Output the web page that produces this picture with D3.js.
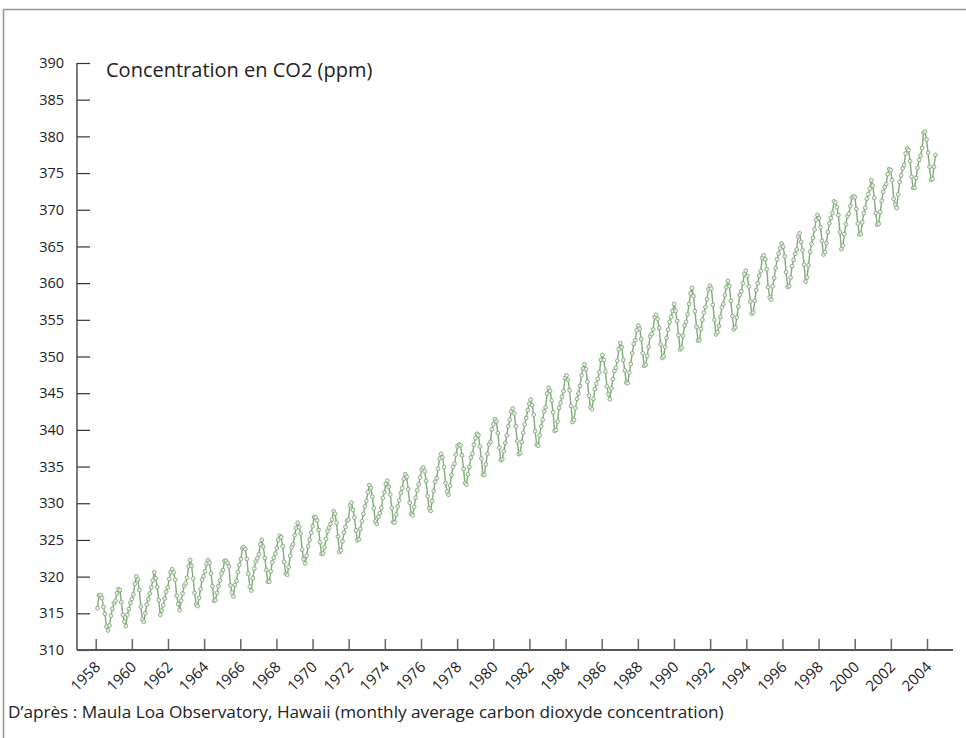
<!DOCTYPE html>
<html>
<head>
<meta charset="utf-8">
<script src="https://cdn.jsdelivr.net/npm/d3@7"></script>
<style>
  body { margin: 0; background: #fff; }
  svg text { font-family: "Open Sans", "Noto Sans", sans-serif; fill: #222; }
</style>
</head>
<body>
<svg id="chart" width="966" height="738"></svg>
<script>
// monthly average CO2 at Mauna Loa (ppm), one row per year, Jan..Dec
const startYear = 1958;
const startMonth = 3; // first value is March 1958
const co2_1958 = [315.71, 317.45, 317.50, 317.10, 315.86, 314.93, 313.20, 312.66, 313.33, 314.67];
const co2_1959 = [315.62, 316.38, 316.71, 317.72, 318.29, 318.15, 316.54, 314.80, 313.84, 313.26, 314.80, 315.58];
const co2_1960 = [316.43, 316.97, 317.58, 319.02, 320.03, 319.59, 318.18, 315.91, 314.16, 313.83, 315.00, 316.19];
const co2_1961 = [316.93, 317.70, 318.54, 319.48, 320.58, 319.77, 318.57, 316.79, 314.80, 315.38, 316.10, 317.01];
const co2_1962 = [317.94, 318.56, 319.68, 320.63, 321.01, 320.55, 319.58, 317.40, 316.26, 315.42, 316.69, 317.69];
const co2_1963 = [318.74, 319.08, 319.86, 321.39, 322.25, 321.47, 319.74, 317.77, 316.21, 315.99, 317.12, 318.31];
const co2_1964 = [319.57, 320.07, 320.73, 321.77, 322.25, 321.89, 320.44, 318.70, 316.70, 316.79, 317.79, 318.71];
const co2_1965 = [319.44, 320.44, 320.89, 322.13, 322.16, 321.87, 321.39, 318.81, 317.81, 317.30, 318.87, 319.42];
const co2_1966 = [320.62, 321.59, 322.39, 323.87, 324.01, 323.75, 322.39, 320.37, 318.64, 318.10, 319.79, 321.08];
const co2_1967 = [322.07, 322.50, 323.04, 324.42, 325.00, 324.09, 322.55, 320.92, 319.31, 319.31, 320.72, 321.96];
const co2_1968 = [322.57, 323.15, 323.89, 325.02, 325.57, 325.36, 324.14, 322.03, 320.41, 320.25, 321.31, 322.84];
const co2_1969 = [324.00, 324.42, 325.64, 326.66, 327.34, 326.76, 325.88, 323.67, 322.38, 321.78, 322.85, 324.11];
const co2_1970 = [325.03, 325.99, 326.87, 328.13, 328.07, 327.66, 326.35, 324.69, 323.10, 323.16, 323.98, 325.13];
const co2_1971 = [326.17, 326.68, 327.18, 327.78, 328.92, 328.57, 327.34, 325.46, 323.36, 323.57, 324.80, 326.01];
const co2_1972 = [326.77, 327.63, 327.75, 329.72, 330.07, 329.09, 328.05, 326.32, 324.93, 325.06, 326.50, 327.55];
const co2_1973 = [328.54, 329.56, 330.30, 331.50, 332.48, 332.07, 330.87, 329.31, 327.51, 327.18, 328.16, 328.64];
const co2_1974 = [329.35, 330.71, 331.48, 332.65, 333.09, 332.25, 331.18, 329.40, 327.43, 327.37, 328.46, 329.57];
const co2_1975 = [330.40, 331.40, 332.04, 333.31, 333.96, 333.59, 331.91, 330.06, 328.56, 328.34, 329.49, 330.76];
const co2_1976 = [331.75, 332.56, 333.50, 334.58, 334.87, 334.34, 333.05, 330.94, 329.30, 328.94, 330.31, 331.68];
const co2_1977 = [332.93, 333.42, 334.70, 336.07, 336.74, 336.27, 334.93, 332.75, 331.58, 331.16, 332.40, 333.85];
const co2_1978 = [334.97, 335.39, 336.64, 337.76, 338.01, 337.89, 336.54, 334.68, 332.76, 332.54, 333.92, 334.95];
const co2_1979 = [336.23, 336.76, 337.96, 338.89, 339.47, 339.29, 337.73, 336.09, 333.91, 333.86, 335.29, 336.73];
const co2_1980 = [338.01, 338.36, 340.08, 340.77, 341.46, 341.17, 339.56, 337.60, 335.88, 336.01, 337.10, 338.21];
const co2_1981 = [339.24, 340.48, 341.38, 342.51, 342.91, 342.25, 340.49, 338.43, 336.69, 336.85, 338.36, 339.61];
const co2_1982 = [340.75, 341.61, 342.70, 343.56, 344.13, 343.35, 342.06, 339.82, 337.97, 337.86, 339.26, 340.49];
const co2_1983 = [341.38, 342.52, 343.10, 344.94, 345.75, 345.32, 343.99, 342.39, 339.86, 339.99, 341.16, 342.99];
const co2_1984 = [343.70, 344.51, 345.28, 347.08, 347.43, 346.79, 345.40, 343.28, 341.07, 341.35, 342.98, 344.22];
const co2_1985 = [344.97, 345.99, 347.42, 348.35, 348.93, 348.25, 346.56, 344.67, 343.09, 342.80, 344.24, 345.56];
const co2_1986 = [346.30, 346.95, 347.85, 349.55, 350.21, 349.54, 347.94, 345.91, 344.86, 344.17, 345.66, 346.90];
const co2_1987 = [348.02, 348.47, 349.42, 350.99, 351.84, 351.25, 349.52, 348.10, 346.44, 346.36, 347.81, 348.96];
const co2_1988 = [350.43, 351.72, 352.22, 353.59, 354.22, 353.79, 352.39, 350.44, 348.72, 348.88, 350.07, 351.34];
const co2_1989 = [352.76, 353.07, 353.68, 355.42, 355.67, 355.13, 353.90, 351.67, 349.80, 349.99, 351.30, 352.53];
const co2_1990 = [353.66, 354.70, 355.39, 356.20, 357.16, 356.22, 354.82, 352.91, 350.96, 351.18, 352.83, 354.21];
const co2_1991 = [354.72, 355.75, 357.16, 358.60, 359.34, 358.24, 356.17, 354.03, 352.16, 352.21, 353.75, 354.99];
const co2_1992 = [355.99, 356.72, 357.81, 359.15, 359.66, 359.25, 357.02, 355.00, 353.01, 353.31, 354.16, 355.40];
const co2_1993 = [356.70, 357.16, 358.38, 359.46, 360.28, 359.60, 357.57, 355.52, 353.70, 353.98, 355.33, 356.80];
const co2_1994 = [358.36, 358.91, 359.97, 361.26, 361.68, 360.95, 359.55, 357.49, 355.84, 356.00, 357.58, 359.04];
const co2_1995 = [359.97, 361.00, 361.64, 363.45, 363.79, 363.26, 361.90, 359.46, 358.06, 357.75, 359.56, 360.70];
const co2_1996 = [362.05, 363.25, 364.03, 364.72, 365.41, 364.97, 363.65, 361.49, 359.46, 359.60, 360.76, 362.33];
const co2_1997 = [363.18, 364.00, 364.57, 366.35, 366.79, 365.62, 364.47, 362.51, 360.19, 360.77, 362.43, 364.28];
const co2_1998 = [365.33, 366.15, 367.31, 368.61, 369.29, 368.87, 367.64, 365.77, 363.90, 364.23, 365.46, 366.97];
const co2_1999 = [368.15, 368.87, 369.59, 371.14, 371.00, 370.35, 369.27, 366.94, 364.63, 365.12, 366.67, 368.01];
const co2_2000 = [369.14, 369.46, 370.52, 371.66, 371.82, 371.70, 370.12, 368.12, 366.62, 366.73, 368.29, 369.53];
const co2_2001 = [370.28, 371.50, 372.12, 372.87, 374.02, 373.30, 371.62, 369.55, 367.96, 368.09, 369.68, 371.24];
const co2_2002 = [372.44, 373.08, 373.52, 374.85, 375.55, 375.40, 374.02, 371.49, 370.71, 370.25, 372.08, 373.78];
const co2_2003 = [374.68, 375.63, 376.11, 377.65, 378.35, 378.13, 376.62, 374.50, 372.99, 373.00, 374.35, 375.70];
const co2_2004 = [376.79, 377.37, 378.41, 380.52, 380.63, 379.57, 377.79, 375.86, 374.06, 374.24, 375.86, 377.48];

const yearRows = [co2_1958, co2_1959, co2_1960, co2_1961, co2_1962, co2_1963, co2_1964, co2_1965,
  co2_1966, co2_1967, co2_1968, co2_1969, co2_1970, co2_1971, co2_1972, co2_1973, co2_1974,
  co2_1975, co2_1976, co2_1977, co2_1978, co2_1979, co2_1980, co2_1981, co2_1982, co2_1983,
  co2_1984, co2_1985, co2_1986, co2_1987, co2_1988, co2_1989, co2_1990, co2_1991, co2_1992,
  co2_1993, co2_1994, co2_1995, co2_1996, co2_1997, co2_1998, co2_1999, co2_2000, co2_2001,
  co2_2002, co2_2003, co2_2004];

const yTicks = [310, 315, 320, 325, 330, 335, 340, 345, 350, 355, 360, 365, 370, 375, 380, 385, 390];
const xTickYears = d3.range(1958, 2005, 2);
const title = "Concentration en CO2 (ppm)";
const source = "D\u2019apr\u00e8s : Maula Loa Observatory, Hawaii (monthly average carbon dioxyde concentration)";

// flatten into {t, value} where t is decimal year
const data = [];
yearRows.forEach((row, yi) => {
  const first = yi === 0 ? startMonth : 1;
  row.forEach((v, mi) => {
    data.push({ t: startYear + yi + (first - 1 + mi) / 12, value: v });
  });
});

const svg = d3.select("#chart");
const green = "#82aa7b";

// frame
svg.append("path")
  .attr("d", "M3.5,738 L3.5,9.5 L966,9.5")
  .attr("fill", "none")
  .attr("stroke", "#8c9f86")
  .attr("stroke-width", 1.5);

const yScale = d3.scaleLinear().domain([310, 390]).range([650, 63]);
// the year labels and the plotted months do not share exactly the same spacing in the original
const xAxisScale = d3.scaleLinear().domain([1958, 2004]).range([95.7, 927]);
const xScale = d3.scaleLinear().domain([1958 + 2 / 12, 2004 + 11 / 12]).range([97.5, 935.5]);

const axisX0 = 77, axisX1 = 953, axisY = 650;

// y axis
const yAxis = svg.append("g")
  .attr("transform", `translate(${axisX0},0)`)
  .call(d3.axisLeft(yScale).tickValues(yTicks).tickSizeInner(-13).tickSizeOuter(0).tickPadding(13));
yAxis.select(".domain").remove();
yAxis.selectAll(".tick line").attr("stroke", "#333").attr("stroke-width", 1.2);
yAxis.selectAll(".tick text").style("font-size", "14.5px").attr("fill", "#222");

// x axis
const xAxis = svg.append("g")
  .attr("transform", `translate(0,${axisY})`)
  .call(d3.axisBottom(xAxisScale).tickValues(xTickYears).tickFormat(d3.format("d")).tickSizeInner(-11).tickSizeOuter(0));
xAxis.select(".domain").remove();
xAxis.selectAll(".tick line").attr("stroke", "#666").attr("stroke-width", 1.5);
xAxis.selectAll(".tick text")
  .style("font-size", "15px")
  .attr("fill", "#222")
  .attr("text-anchor", "end")
  .attr("x", 0).attr("y", 0).attr("dy", null)
  .attr("transform", "translate(5,18) rotate(-45)");

// axis lines
svg.append("line")
  .attr("x1", axisX0).attr("x2", axisX0)
  .attr("y1", yScale(390)).attr("y2", axisY)
  .attr("stroke", "#333").attr("stroke-width", 1.3);
svg.append("line")
  .attr("x1", axisX0).attr("x2", axisX1)
  .attr("y1", axisY).attr("y2", axisY)
  .attr("stroke", "#555").attr("stroke-width", 2);

// series
const line = d3.line().x((d) => xScale(d.t)).y((d) => yScale(d.value));
svg.append("path")
  .datum(data)
  .attr("fill", "none")
  .attr("stroke", green)
  .attr("stroke-width", 1.4)
  .attr("d", line);

svg.append("g")
  .selectAll("circle")
  .data(data)
  .join("circle")
  .attr("cx", (d) => xScale(d.t))
  .attr("cy", (d) => yScale(d.value))
  .attr("r", 1.9)
  .attr("fill", "#e6efe3")
  .attr("stroke", green)
  .attr("stroke-width", 0.9);

// texts
svg.append("text")
  .attr("x", 106).attr("y", 77)
  .style("font-size", "20px")
  .text(title);

svg.append("text")
  .attr("x", 8).attr("y", 718)
  .style("font-size", "17.2px")
  .text(source);
</script>
</body>
</html>
